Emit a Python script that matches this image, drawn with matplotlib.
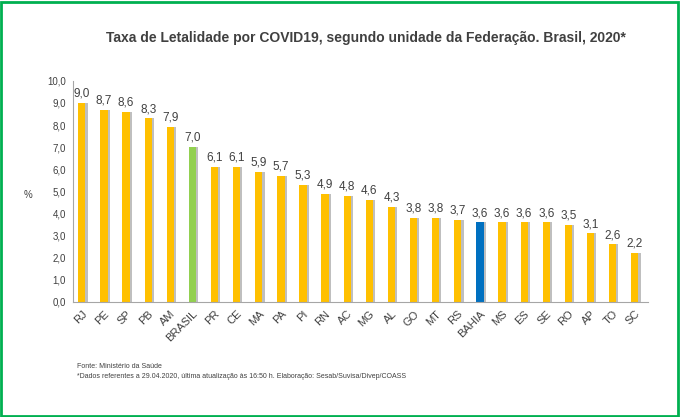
import numpy as np
import matplotlib.pyplot as plt
import matplotlib.patheffects as pe
from matplotlib.patches import Rectangle

plt.rcParams['font.family'] = ['Liberation Sans', 'DejaVu Sans']

# estados e taxas de letalidade (%)
ufs = ['RJ', 'PE', 'SP', 'PB', 'AM', 'BRASIL', 'PR', 'CE', 'MA', 'PA', 'PI', 'RN', 'AC',
       'MG', 'AL', 'GO', 'MT', 'RS', 'BAHIA', 'MS', 'ES', 'SE', 'RO', 'AP', 'TO', 'SC']
taxa = [9.0, 8.7, 8.6, 8.3, 7.9, 7.0, 6.1, 6.1, 5.9, 5.7, 5.3, 4.9, 4.8,
        4.6, 4.3, 3.8, 3.8, 3.7, 3.6, 3.6, 3.6, 3.6, 3.5, 3.1, 2.6, 2.2]

cores = []
for u in ufs:
    if u == 'BRASIL':
        cores.append('#92D050')
    elif u == 'BAHIA':
        cores.append('#0070C0')
    else:
        cores.append('#FFC000')

fig = plt.figure(figsize=(6.8, 4.17), dpi=100)
ax = fig.add_axes([0.107, 0.276, 0.846, 0.53])

x = np.arange(len(ufs))
bars = ax.bar(x, taxa, width=0.33, color=cores, zorder=2)
for b in bars:
    b.set_path_effects([pe.SimplePatchShadow(offset=(1.5, 0), shadow_rgbFace='#BFBFBF', alpha=1), pe.Normal()])

for xi, v in zip(x, taxa):
    ax.text(xi, v + 0.15, f'{v:.1f}'.replace('.', ','), ha='center', va='bottom',
            fontsize=8.5, color='#404040')

ax.set_xlim(-0.41, 25.6)
ax.set_ylim(0, 10)
ax.set_yticks(np.arange(0, 11, 1))
ax.set_yticklabels([f'{v:.1f}'.replace('.', ',') for v in np.arange(0, 11, 1)], fontsize=7, color='#404040')
ax.set_xticks(x)
ax.set_xticklabels(ufs, rotation=45, ha='right', rotation_mode='anchor', fontsize=8, color='#404040')
ax.tick_params(axis='both', length=0, pad=5)
for s in ['top', 'right']:
    ax.spines[s].set_visible(False)
ax.spines['left'].set_color('#A6A6A6')
ax.spines['bottom'].set_color('#A6A6A6')

fig.text(0.538, 0.909, 'Taxa de Letalidade por COVID19, segundo unidade da Federação. Brasil, 2020*',
         ha='center', va='center', fontsize=10, fontweight='bold', color='#404040')
fig.text(0.041, 0.532, '%', ha='center', va='center', fontsize=7, color='#404040')
fig.text(0.113, 0.122, 'Fonte: Ministério da Saúde', fontsize=5, color='#404040', va='center')
fig.text(0.113, 0.096, '*Dados referentes a 29.04.2020, última atualização às 16:50 h. Elaboração: Sesab/Suvisa/Divep/COASS',
         fontsize=5, color='#404040', va='center')

fig.patches.append(Rectangle((0.002, 0.003), 0.995, 0.993, transform=fig.transFigure,
                             fill=False, edgecolor='#00B050', linewidth=2))

fig.savefig('out.png', dpi=100)
